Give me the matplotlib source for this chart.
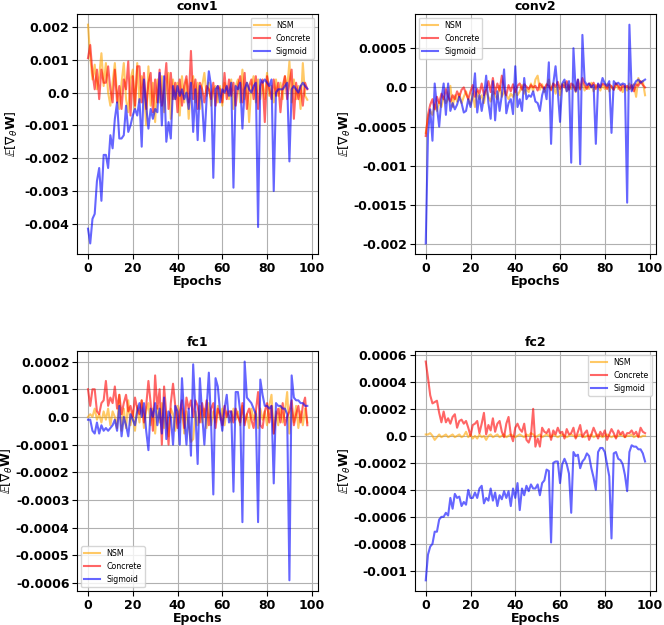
import matplotlib
matplotlib.use("Agg")
import matplotlib.pyplot as plt
from matplotlib.ticker import MultipleLocator, FuncFormatter
import numpy as np

epochs = np.arange(99)

# conv1
conv1_nsm = [0.00207, 0.0011, 0.0004, 0.00085, 0.0001, 0.0005, 0.0012, 0.0002, 0.0009, 0.0000,
             -0.0004, 0.0003, 0.0009, -0.0001, -0.0005, 0.0003, 0.0009, -0.0002, -0.0006, 0.0004,
             0.0007, -0.0005, 0.0009, -0.0003, 0.0005, 0.0001, -0.0010, 0.0008, -0.0004, 0.0003,
             -0.0009, 0.0004, -0.0003, 0.0005, -0.0006, 0.0002, 0.0006, -0.0008, 0.0004, -0.0002,
             0.0003, -0.0007, 0.0005, -0.0003, 0.0004, -0.0008, 0.0002, 0.0005, -0.0003, 0.0003,
             -0.0005, 0.0002, 0.0006, -0.0001, 0.0003, -0.0004, 0.0001, 0.0002, -0.0003, 0.0002,
             -0.0004, 0.0003, 0.0001, -0.0002, 0.0004, -0.0005, 0.0002, 0.0004, -0.0003, 0.0007,
             -0.0002, 0.0003, -0.0009, 0.0002, 0.0005, -0.0003, 0.0004, -0.0002, 0.0003, -0.0002,
             0.0006, -0.0001, 0.0002, -0.0003, 0.0004, -0.0001, 0.0003, -0.0002, 0.0005, 0.0001,
             0.00095, -0.0003, 0.0004, -0.0002, 0.0002, -0.0005, 0.0009, -0.0001, -0.00022]
conv1_concrete = [0.00105, 0.00145, 0.0006, 0.0001, 0.0007, -0.0002, 0.0007, 0.0003, 0.0003, 0.0008,
                  0.0001, -0.0003, 0.0007, -0.0003, 0.0002, -0.0005, 0.0004, 0.0001, 0.00095, -0.0007,
                  0.0005, -0.0004, 0.0008, 0.0008, -0.0003, 0.0006, -0.0005, 0.0003, 0.0006, -0.0006,
                  0.0004, -0.0003, 0.0007, -0.0004, 0.0001, 0.0009, -0.0005, 0.0006, -0.0002, 0.0003,
                  -0.0006, 0.0004, -0.0004, 0.0002, 0.0005, -0.0003, 0.00127, -0.0002, 0.0004, -0.0005,
                  0.0003, 0.0001, -0.0003, 0.0002, 0.0001, -0.0002, 0.0003, -0.0004, 0.0002, 0.0001,
                  -0.0003, 0.0006, -0.0002, 0.0004, -0.0001, 0.0003, -0.0004, 0.0002, 0.0005, -0.0003,
                  0.0006, -0.0005, 0.0002, 0.0004, -0.0002, 0.0005, -0.0005, 0.0002, 0.0004, -0.0009,
                  0.0005, 0.0001, -0.0002, 0.0004, -0.0001, 0.0003, -0.0006, 0.0002, 0.0005, -0.0002,
                  0.0003, 0.0007, -0.0008, 0.0003, -0.0002, 0.0002, -0.0004, 0.0003, 0.0001]
conv1_sigmoid = [-0.00415, -0.0046, -0.00385, -0.0037, -0.0027, -0.0023, -0.0033, -0.0019, -0.0019, -0.0023,
                 -0.0013, -0.0017, -0.0008, -0.0003, -0.0014, -0.0014, -0.0013, -0.0004, -0.0012, -0.0010,
                 -0.0007, -0.0005, -0.0007, -0.0002, -0.00165, 0.0004, -0.0004, -0.0011, -0.0005, -0.0008,
                 -0.0005, -0.0006, 0.0006, -0.0010, 0.0005, -0.0015, -0.0009, -0.0014, 0.0002, -0.0002,
                 0.0002, -0.0001, 0.0001, -0.0002, 0.0000, -0.0005, 0.0003, -0.0012, 0.0001, -0.00145,
                 0.0002, -0.0003, -0.00148, -0.0002, 0.00065, 0.0002, -0.0026, 0.0001, 0.0002, -0.0003,
                 0.0001, 0.0000, 0.0002, -0.0001, 0.0003, -0.0029, 0.0002, 0.0001, 0.0003, -0.0011,
                 0.0001, 0.0003, 0.0001, 0.0000, 0.0002, 0.0003, -0.0041, 0.0004, 0.0003, 0.0004,
                 0.0003, 0.0002, 0.0004, -0.0030, 0.0000, 0.0001, 0.0001, 0.0001, 0.0002, 0.0003,
                 -0.0021, 0.0001, 0.0002, 0.0001, 0.0000, 0.0002, 0.0003, 0.0002, 0.00012]

# conv2
conv2_nsm = [-0.00058, -0.00040, -0.00030, -0.00035, -0.00022, -0.00030, -0.00018, -0.00025, -0.00012, -0.00020,
             -0.00015, 0.00002, -0.00025, -0.00010, -0.00018, -0.00008, -0.00020, -0.00012, -0.00005, -0.00015,
             -0.00022, -0.00008, -0.00025, -0.00005, -0.00015, -0.00010, -0.00020, -0.00003, -0.00012, -0.00018,
             -0.00005, -0.00010, -0.00015, 0.00002, -0.00012, -0.00005, -0.00010, -0.00015, -0.00008, -0.00012,
             -0.00003, -0.00010, -0.00005, 0.00003, -0.00008, -0.00002, -0.00006, 0.00005, -0.00005, 0.00010,
             0.00015, -0.00003, 0.00004, -0.00006, 0.00002, 0.00010, -0.00004, 0.00005, -0.00008, 0.00003,
             -0.00010, 0.00002, 0.00006, -0.00005, 0.00003, -0.00002, 0.00004, -0.00006, 0.00002, -0.00003,
             0.00005, -0.00004, 0.00003, -0.00002, 0.00006, -0.00005, 0.00003, 0.00001, -0.00004, 0.00003,
             -0.00002, 0.00004, -0.00005, 0.00002, -0.00003, 0.00005, -0.00002, 0.00003, -0.00006, 0.00002,
             -0.00004, 0.00005, -0.00003, 0.00004, -0.00012, 0.00012, 0.00005, 0.00008, -0.00010]
conv2_concrete = [-0.00062, -0.00035, -0.00022, -0.00015, -0.00028, -0.00012, -0.00020, -0.00008, -0.00015, -0.00002,
                  -0.00012, -0.00018, -0.00010, -0.00015, -0.00005, -0.00012, -0.00003, 0.00000, -0.00008, -0.00015,
                  -0.00005, 0.00003, -0.00012, -0.00002, -0.00008, 0.00005, -0.00010, -0.00003, 0.00008, -0.00006,
                  0.00012, -0.00008, 0.00005, -0.00004, 0.00015, -0.00002, -0.00010, 0.00003, -0.00005, 0.00004,
                  -0.00006, 0.00002, 0.00005, -0.00003, 0.00004, 0.00001, -0.00002, 0.00003, 0.00000, 0.00002,
                  -0.00004, 0.00005, 0.00001, -0.00002, 0.00004, 0.00002, -0.00003, 0.00005, 0.00001, 0.00007,
                  -0.00002, 0.00004, 0.00000, 0.00008, -0.00003, 0.00005, 0.00002, -0.00004, 0.00010, -0.00002,
                  0.00012, 0.00003, -0.00002, 0.00005, 0.00001, 0.00006, -0.00002, 0.00004, 0.00000, 0.00005,
                  0.00003, -0.00002, 0.00004, 0.00001, -0.00003, 0.00005, 0.00002, -0.00004, 0.00003, 0.00000,
                  0.00002, -0.00002, 0.00003, -0.00005, 0.00004, 0.00002, 0.00008, 0.00003, 0.00000]
conv2_sigmoid = [-0.00199, -0.0006, -0.00028, -0.00068, 0.00005, -0.00025, -0.00050, -0.00015, 0.00005, -0.00035,
                 0.00005, -0.00030, -0.00020, -0.00028, -0.00022, -0.00012, -0.00020, -0.00032, -0.00030, -0.00015,
                 -0.00025, -0.00010, 0.00018, -0.00032, -0.00010, -0.00030, -0.00012, 0.00015, -0.00020, -0.00040,
                 0.00008, -0.00042, -0.00005, -0.00030, -0.00010, 0.00023, -0.00033, -0.00020, -0.00015, -0.00034,
                 0.00027, -0.00025, -0.00015, -0.00030, 0.00012, -0.00015, -0.00010, -0.00012, -0.00005, -0.00018,
                 -0.00020, -0.00030, -0.00010, 0.00000, -0.00015, 0.00032, -0.00072, 0.00005, 0.00027, -0.00005,
                 -0.00044, 0.00005, 0.00010, -0.00005, 0.00008, -0.00096, 0.00050, -0.00005, 0.00010, -0.00098,
                 0.00067, 0.00008, 0.00003, 0.00005, 0.00000, 0.00003, -0.00072, 0.00005, 0.00000, 0.00012,
                 0.00005, 0.00002, 0.00008, -0.00058, 0.00008, 0.00004, 0.00006, 0.00003, 0.00005, 0.00004,
                 -0.00147, 0.00080, -0.00005, 0.00003, 0.00008, 0.00010, 0.00006, 0.00008, 0.00010]

# fc1
fc1_nsm = [0.00000, 0.00001, 0.00000, 0.00003, -0.00001, 0.00001, -0.00002, 0.00002, -0.00001, 0.00003,
           -0.00003, 0.00002, 0.00000, -0.00004, 0.00008, -0.00005, 0.00003, -0.00004, 0.00006, -0.00003,
           0.00002, -0.00005, 0.00004, -0.00002, 0.00006, -0.00004, 0.00002, 0.00005, -0.00003, 0.00003,
           -0.00006, 0.00004, -0.00002, 0.00005, -0.00004, 0.00002, -0.00007, 0.00003, 0.00001, -0.00005,
           0.00004, -0.00002, 0.00003, -0.00006, 0.00002, -0.00003, -0.00009, -0.00008, 0.00002, -0.00003,
           0.00004, -0.00002, 0.00003, -0.00004, 0.00005, -0.00003, 0.00002, -0.00002, 0.00004, -0.00001,
           0.00003, -0.00003, 0.00002, 0.00000, -0.00002, 0.00003, -0.00001, 0.00002, -0.00003, 0.00004,
           -0.00002, 0.00001, -0.00004, 0.00003, -0.00001, 0.00002, -0.00004, 0.00003, -0.00001, 0.00002,
           -0.00003, 0.00004, 0.00008, -0.00006, 0.00002, -0.00003, 0.00004, -0.00002, 0.00002, 0.00009,
           -0.00006, 0.00003, -0.00002, 0.00004, -0.00004, 0.00002, -0.00003, 0.00003, -0.00002]
fc1_concrete = [0.00010, 0.00004, 0.00010, 0.00010, 0.00002, 0.00001, 0.00005, 0.00006, 0.00013, 0.00004,
                0.00007, 0.00005, 0.00011, 0.00003, 0.00008, 0.00001, 0.00005, 0.00008, 0.00002, 0.00004,
                0.00000, 0.00007, 0.00003, 0.00001, 0.00006, -0.00002, 0.00004, 0.00013, 0.00005, -0.00005,
                0.00015, 0.00003, 0.00010, -0.00010, 0.00011, 0.00001, -0.00010, 0.00005, 0.00012, 0.00004,
                -0.00004, 0.00002, 0.00006, -0.00004, 0.00007, 0.00003, 0.00006, 0.00000, 0.00006, 0.00004,
                -0.00002, 0.00005, 0.00000, 0.00006, -0.00003, 0.00003, 0.00005, -0.00004, 0.00003, 0.00001,
                -0.00003, 0.00004, 0.00000, 0.00002, 0.00002, -0.00002, 0.00003, 0.00000, -0.00002, 0.00005,
                -0.00003, 0.00001, 0.00003, -0.00001, -0.00004, 0.00002, 0.00009, -0.00003, -0.00004, 0.00002,
                0.00005, -0.00002, 0.00004, -0.00006, 0.00000, 0.00003, -0.00002, 0.00005, -0.00003, 0.00000,
                0.00002, 0.00006, -0.00003, 0.00001, 0.00004, -0.00002, 0.00004, 0.00007, -0.00003]
fc1_sigmoid = [-0.00001, -0.00001, -0.00005, -0.00006, -0.00002, -0.00006, -0.00003, -0.00005, -0.00004, -0.00005,
               -0.00004, -0.00003, -0.00001, -0.00005, 0.00004, -0.00007, 0.00000, -0.00003, -0.00007, 0.00001,
               -0.00001, -0.00003, 0.00002, 0.00005, 0.00000, 0.00005, -0.00005, -0.00012, 0.00003, 0.00000,
               0.00005, -0.00003, 0.00003, -0.00006, 0.00007, -0.00008, 0.00002, 0.00000, -0.00010, 0.00004,
               0.00002, -0.00010, 0.00014, 0.00000, -0.00010, 0.00003, -0.00014, 0.00019, 0.00002, -0.00017,
               0.00014, 0.00001, -0.00010, 0.00003, 0.00016, -0.00002, -0.00028, 0.00014, 0.00011, 0.00002,
               -0.00005, 0.00003, 0.00008, -0.00002, 0.00002, -0.00027, 0.00009, 0.00009, 0.00002, -0.00038,
               0.00020, 0.00007, 0.00006, 0.00005, 0.00003, 0.00001, -0.00038, 0.000135, 0.00008, 0.00004,
               0.00004, 0.00003, 0.00004, -0.00024, 0.00005, 0.00004, 0.00004, 0.00003, 0.00003, 0.00001,
               -0.00059, 0.00015, 0.00007, 0.00006, 0.00006, 0.00005, 0.00005, 0.00004, 0.00004]

# fc2
fc2_nsm = [0.00001, 0.00001, 0.00002, 0.00000, -0.00003, -0.00001, 0.00001, -0.00001, 0.00000, 0.00001,
           -0.00001, 0.00000, 0.00001, -0.00001, 0.00000, 0.00001, -0.00001, 0.00000, 0.00003, -0.00001,
           0.00001, -0.00002, 0.00000, -0.00002, 0.00001, -0.00001, 0.00000, -0.00003, 0.00000, 0.00001,
           -0.00001, 0.00000, 0.00001, -0.00001, 0.00000, 0.00001, -0.00001, 0.00000, 0.00001, 0.00000,
           -0.00001, 0.00000, 0.00001, 0.00000, -0.00001, 0.00001, 0.00000, 0.00002, 0.00001, -0.00001,
           0.00000, 0.00001, -0.00001, 0.00000, 0.00001, 0.00000, -0.00001, 0.00001, 0.00000, -0.00001,
           0.00000, 0.00001, 0.00000, -0.00001, 0.00000, 0.00001, 0.00000, -0.00001, 0.00000, 0.00001,
           0.00000, -0.00001, 0.00000, 0.00000, 0.00001, -0.00001, 0.00000, 0.00001, 0.00000, -0.00001,
           0.00000, 0.00001, 0.00000, -0.00001, 0.00000, -0.00001, 0.00000, 0.00001, 0.00000, -0.00001,
           0.00000, 0.00000, 0.00001, -0.00001, 0.00000, 0.00000, -0.00001, 0.00000, 0.00000]
fc2_concrete = [0.00055, 0.00043, 0.00030, 0.00024, 0.00025, 0.00026, 0.00017, 0.00010, 0.00018, 0.00010,
                0.00013, 0.00009, 0.00014, 0.00016, 0.00006, 0.00011, 0.00012, 0.00009, 0.00011, 0.00006,
                0.00000, 0.00008, 0.00009, 0.00011, 0.00002, 0.00009, 0.00017, 0.00001, 0.00008, 0.00004,
                0.00013, 0.00003, 0.00009, 0.00011, 0.00003, -0.00001, 0.00009, 0.00014, 0.00001, -0.00004,
                0.00006, 0.00009, 0.00005, 0.00003, 0.00009, -0.00003, -0.00005, 0.00000, 0.00020, -0.00008,
                -0.00002, -0.00008, 0.00006, 0.00003, 0.00002, 0.00005, -0.00003, 0.00004, 0.00001, 0.00006,
                0.00002, 0.00003, -0.00002, 0.00005, 0.00001, 0.00002, 0.00006, -0.00002, 0.00003, 0.00008,
                -0.00001, 0.00002, 0.00004, -0.00003, 0.00001, 0.00006, 0.00002, -0.00002, 0.00003, 0.00000,
                0.00004, -0.00003, 0.00001, 0.00005, 0.00002, -0.00002, 0.00004, 0.00001, 0.00003, -0.00001,
                0.00002, 0.00002, 0.00004, 0.00001, 0.00003, -0.00001, 0.00006, 0.00003, 0.00002]
fc2_sigmoid = [-0.00107, -0.00088, -0.00082, -0.00080, -0.00071, -0.00071, -0.00062, -0.00060, -0.00060, -0.00057,
               -0.00059, -0.00046, -0.00054, -0.00043, -0.00046, -0.00045, -0.00052, -0.00049, -0.00051, -0.00040,
               -0.00046, -0.00046, -0.00042, -0.00046, -0.00039, -0.00037, -0.00050, -0.00046, -0.00048, -0.00039,
               -0.00048, -0.00042, -0.00052, -0.00044, -0.00047, -0.00041, -0.00046, -0.00041, -0.00052, -0.00039,
               -0.00046, -0.00035, -0.00055, -0.00039, -0.00044, -0.00037, -0.00041, -0.00036, -0.00039, -0.00039,
               -0.00036, -0.00044, -0.00035, -0.00033, -0.00025, -0.00026, -0.00079, -0.00020, -0.00019, -0.00019,
               -0.00035, -0.00021, -0.00017, -0.00021, -0.00028, -0.00057, -0.00012, -0.00015, -0.00014, -0.00024,
               -0.00019, -0.00017, -0.00013, -0.00015, -0.00024, -0.00031, -0.00040, -0.00012, -0.00009, -0.00009,
               -0.00012, -0.00021, -0.00030, -0.00076, -0.00013, -0.00012, -0.00017, -0.00018, -0.00021, -0.00029,
               -0.00041, -0.00012, -0.00007, -0.00008, -0.00008, -0.00010, -0.00010, -0.00013, -0.00019]

layers = ["conv1", "conv2", "fc1", "fc2"]
nsm = [conv1_nsm, conv2_nsm, fc1_nsm, fc2_nsm]
concrete = [conv1_concrete, conv2_concrete, fc1_concrete, fc2_concrete]
sigmoid = [conv1_sigmoid, conv2_sigmoid, fc1_sigmoid, fc2_sigmoid]
ysteps = [0.001, 0.0005, 0.0001, 0.0002]
legend_loc = ["upper right", "upper left", "lower left", "upper right"]
ylabel_x = [-0.235, -0.255, -0.258, -0.255]


def fmt(v, pos):
    v = round(v, 8) + 0.0
    return str(v)


fig, axs = plt.subplots(2, 2, figsize=(6.64, 6.25), dpi=100)
plt.subplots_adjust(left=0.116, right=0.988, top=0.978, bottom=0.054, wspace=0.40, hspace=0.40)

for i, ax in enumerate(axs.flat):
    ax.plot(epochs, nsm[i], color="orange", alpha=0.6, lw=1.5, label="NSM")
    ax.plot(epochs, concrete[i], color="red", alpha=0.6, lw=1.5, label="Concrete")
    ax.plot(epochs, sigmoid[i], color="blue", alpha=0.6, lw=1.5, label="Sigmoid")
    ax.set_title(layers[i], fontsize=9, fontweight="bold", pad=3)
    ax.set_xlabel("Epochs", fontsize=9, fontweight="bold", labelpad=0)
    ax.set_ylabel(r"$\mathbb{E}[\nabla_\theta \mathbf{W}]$", fontsize=9)
    ax.yaxis.set_label_coords(ylabel_x[i], 0.5)
    ax.xaxis.set_major_locator(MultipleLocator(20))
    ax.yaxis.set_major_locator(MultipleLocator(ysteps[i]))
    ax.yaxis.set_major_formatter(FuncFormatter(fmt))
    ax.tick_params(pad=2)
    ax.grid(True, color="#b0b0b0", lw=0.8)
    for lab in ax.get_xticklabels() + ax.get_yticklabels():
        lab.set_fontweight("bold")
        lab.set_fontsize(9)
    ax.legend(loc=legend_loc[i], fontsize=5.7)

plt.savefig("out.png", dpi=100)
